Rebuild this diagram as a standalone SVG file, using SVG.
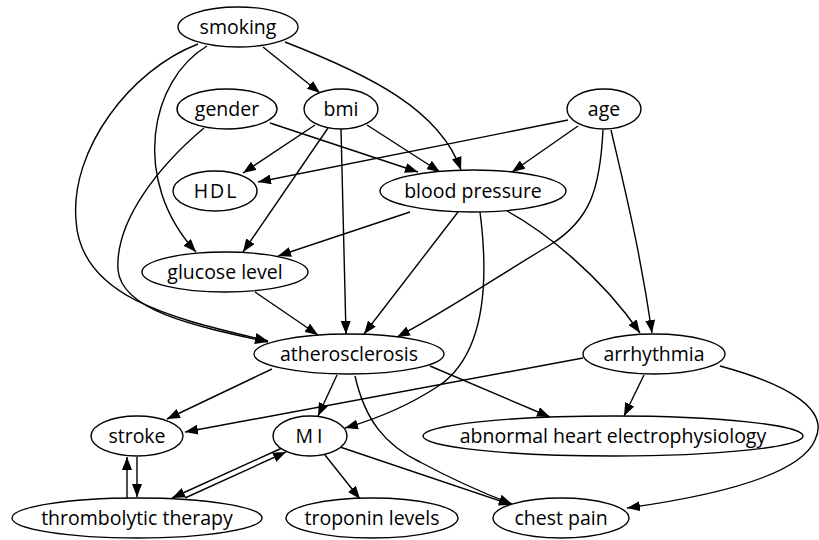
<svg xmlns="http://www.w3.org/2000/svg" width="819" height="540" viewBox="0 0 819 540">
<style>
.n ellipse{fill:#fff;stroke:#000;stroke-width:1.4}
.n text{font-family:"Open Sans","Liberation Sans",sans-serif;font-size:19.5px;text-anchor:middle;fill:#000}
.e path{fill:none;stroke:#000;stroke-width:1.4;marker-end:url(#ah)}
</style>
<defs>
<marker id="ah" viewBox="0 0 13 10" refX="13" refY="5" markerWidth="13" markerHeight="10" markerUnits="userSpaceOnUse" orient="auto">
<path d="M0,0 L13,5 L0,10 z" fill="#000"/>
</marker>
</defs>
<rect width="819" height="540" fill="#fff"/>
<g class="e" id="edges">
<path d="M263,47 L320,93"/>
<path d="M285,42 C370,75 440,110 461,170"/>
<path d="M207,46 C150,80 130,180 196,252"/>
<path d="M198,44 C130,70 70,150 76,220 C80,300 180,320 268,341"/>
<path d="M270,123 L418,172"/>
<path d="M204,128 C160,165 115,220 118,270 C122,310 190,325 268,342"/>
<path d="M315,125 L243,173"/>
<path d="M328,128 L243,252"/>
<path d="M341,129 L346,334"/>
<path d="M367,125 L440,172"/>
<path d="M568,120 L258,182"/>
<path d="M578,126 L512,172"/>
<path d="M603,130 C600,190 590,220 550,245 C500,275 440,315 397,337"/>
<path d="M611,130 C625,190 640,250 652,333"/>
<path d="M410,212 L278,256"/>
<path d="M458,212 L364,334"/>
<path d="M480,212 C490,290 482,355 440,385 C410,405 380,418 345,428"/>
<path d="M507,211 C545,232 600,275 640,333"/>
<path d="M255,292 L318,335"/>
<path d="M272,369 L167,419"/>
<path d="M337,375 L318,416"/>
<path d="M355,376 C365,420 385,445 420,462 C450,478 480,492 512,504"/>
<path d="M430,366 L550,417"/>
<path d="M583,358 L185,432"/>
<path d="M644,375 L624,416"/>
<path d="M720,366 C790,385 830,410 815,440 C800,475 720,495 627,508"/>
<path d="M137,457 L137,497"/>
<path d="M127,498 L127,457"/>
<path d="M282,448 L172,498"/>
<path d="M185,498 L286,452"/>
<path d="M325,455 L360,499"/>
<path d="M340,447 L512,505"/>
</g>
<g class="n" id="smoking"><ellipse cx="238" cy="27" rx="60" ry="20"/><text x="238" y="34">smoking</text></g>
<g class="n" id="gender"><ellipse cx="227" cy="109" rx="50" ry="20"/><text x="227" y="116">gender</text></g>
<g class="n" id="bmi"><ellipse cx="341" cy="109" rx="37" ry="20"/><text x="341" y="116">bmi</text></g>
<g class="n" id="age"><ellipse cx="604" cy="109" rx="37" ry="20"/><text x="604" y="116">age</text></g>
<g class="n" id="HDL"><ellipse cx="215" cy="191" rx="42" ry="20"/><text x="216" y="198" letter-spacing="2">HDL</text></g>
<g class="n" id="blood_pressure"><ellipse cx="473" cy="191" rx="93" ry="21"/><text x="473" y="198">blood pressure</text></g>
<g class="n" id="glucose_level"><ellipse cx="225" cy="272" rx="83" ry="20"/><text x="225" y="279">glucose level</text></g>
<g class="n" id="atherosclerosis"><ellipse cx="349" cy="354" rx="95" ry="20"/><text x="349" y="361">atherosclerosis</text></g>
<g class="n" id="arrhythmia"><ellipse cx="654" cy="354" rx="71" ry="20"/><text x="654" y="361">arrhythmia</text></g>
<g class="n" id="stroke"><ellipse cx="137" cy="436" rx="46" ry="20"/><text x="137" y="443">stroke</text></g>
<g class="n" id="MI"><ellipse cx="310" cy="436" rx="37" ry="20"/><text x="311" y="443" letter-spacing="4">MI</text></g>
<g class="n" id="abnormal_heart_electrophysiology"><ellipse cx="613" cy="436" rx="190" ry="20"/><text x="613" y="443">abnormal heart electrophysiology</text></g>
<g class="n" id="thrombolytic_therapy"><ellipse cx="137" cy="518" rx="125" ry="20"/><text x="137" y="525">thrombolytic therapy</text></g>
<g class="n" id="troponin_levels"><ellipse cx="372" cy="518" rx="86" ry="20"/><text x="372" y="525">troponin levels</text></g>
<g class="n" id="chest_pain"><ellipse cx="561" cy="518" rx="68" ry="20"/><text x="561" y="525">chest pain</text></g>
</svg>
